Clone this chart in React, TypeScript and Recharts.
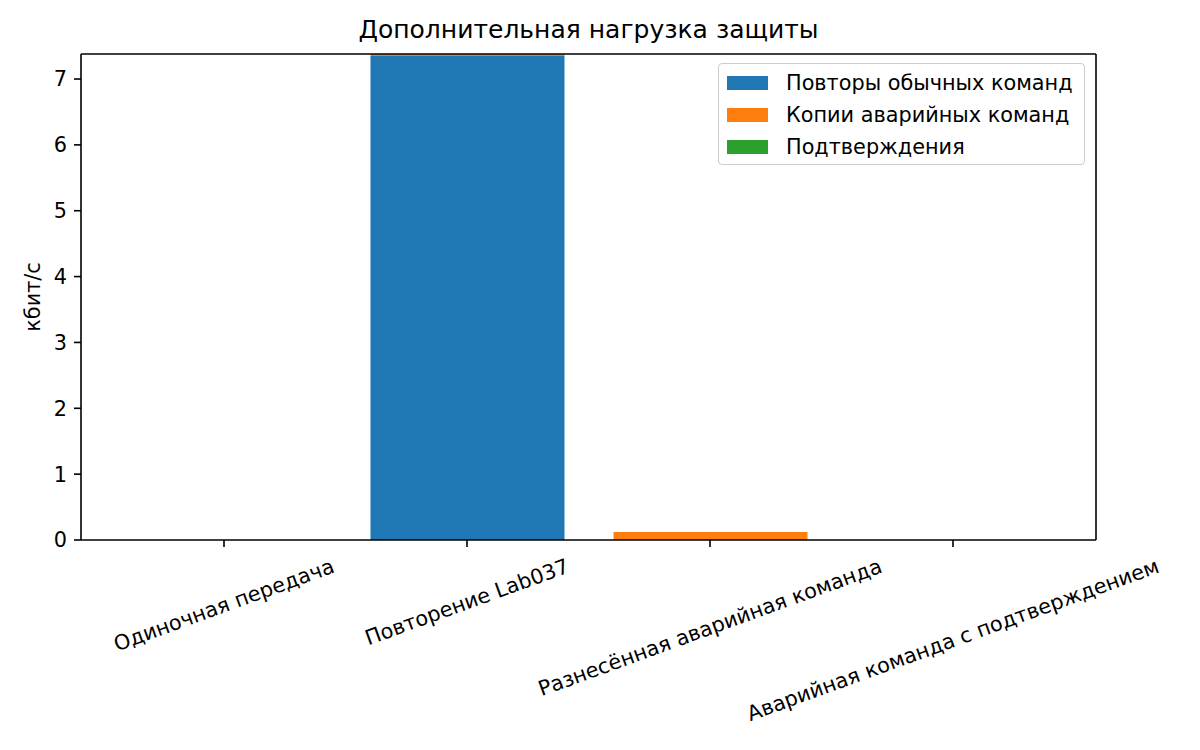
import { Bar, BarChart, Label, Legend, XAxis, YAxis } from "recharts";

// categories and stacked series (kbit/s)
const categories = [
  "Одиночная передача",
  "Повторение Lab037",
  "Разнесённая аварийная команда",
  "Аварийная команда с подтверждением",
];
const retries = [0, 7.35, 0, 0];
const emergencyCopies = [0, 0.03, 0.12, 0];
const acks = [0, 0, 0, 0];
const yTicks = [0, 1, 2, 3, 4, 5, 6, 7];
const Y_MAX = 7.38;

const SERIES = [
  { key: "retries", name: "Повторы обычных команд", color: "#1f77b4" },
  { key: "copies", name: "Копии аварийных команд", color: "#ff7f0e" },
  { key: "acks", name: "Подтверждения", color: "#2ca02c" },
];

const data = categories.map((name, i) => ({
  name,
  retries: retries[i],
  copies: emergencyCopies[i],
  acks: acks[i],
}));

const FONT = '"DejaVu Sans", sans-serif';
const TICK_FS = 20.8;
const AXIS = "#000";

let ctx: CanvasRenderingContext2D | null = null;
function textWidth(s: string) {
  if (!ctx) ctx = document.createElement("canvas").getContext("2d");
  if (!ctx) return s.length * TICK_FS * 0.6;
  ctx.font = `${TICK_FS}px "DejaVu Sans"`;
  return ctx.measureText(s).width;
}

// matplotlib-style rotated label: rotated bbox centred under the tick
function RotatedTick(props: any) {
  const { x, y, payload } = props;
  const a = (20 * Math.PI) / 180;
  const L = textWidth(payload.value);
  const h = TICK_FS * 1.16;
  const H = L * Math.sin(a) + h * Math.cos(a);
  const cy = y + H / 2;
  return (
    <text
      x={x}
      y={cy}
      textAnchor="middle"
      dominantBaseline="central"
      fontSize={TICK_FS}
      fontFamily={FONT}
      fill="#000"
      transform={`rotate(-20, ${x}, ${cy})`}
    >
      {payload.value}
    </text>
  );
}

function LegendBox() {
  return (
    <div
      style={{
        width: 367,
        height: 102,
        boxSizing: "border-box",
        border: "1.5px solid #cccccc",
        borderRadius: 4,
        background: "rgba(255,255,255,0.8)",
        padding: "3px 8px",
        fontFamily: FONT,
        fontSize: TICK_FS,
        color: "#000",
      }}
    >
      {SERIES.map((s) => (
        <div
          key={s.key}
          style={{ display: "flex", alignItems: "center", height: 32 }}
        >
          <span
            style={{
              width: 41,
              height: 14,
              background: s.color,
              marginRight: 18,
              flexShrink: 0,
            }}
          />
          <span style={{ whiteSpace: "nowrap" }}>{s.name}</span>
        </div>
      ))}
    </div>
  );
}

export default function App() {
  return (
    <div
      style={{
        position: "absolute",
        left: 0,
        top: 0,
        width: 1200,
        height: 750,
        background: "#fff",
        fontFamily: FONT,
      }}
    >
      <div
        style={{
          position: "absolute",
          left: 81,
          width: 1015,
          top: 15,
          textAlign: "center",
          fontSize: 25,
          lineHeight: "30px",
          color: "#000",
        }}
      >
        Дополнительная нагрузка защиты
      </div>
      <BarChart
        width={1200}
        height={750}
        data={data}
        margin={{ top: 53, right: 103, bottom: 60, left: 21 }}
        barSize={194}
      >
        <XAxis
          dataKey="name"
          height={150}
          padding={{ left: 21.5, right: 21.5 }}
          interval={0}
          tick={<RotatedTick />}
          tickSize={7}
          tickMargin={7}
          tickLine={{ stroke: AXIS, strokeWidth: 1.6 }}
          axisLine={{ stroke: AXIS, strokeWidth: 1.6 }}
        />
        {/* top and right spines of the frame */}
        <XAxis
          xAxisId="top"
          orientation="top"
          dataKey="name"
          height={1}
          tick={false}
          tickLine={false}
          axisLine={{ stroke: AXIS, strokeWidth: 1.6 }}
        />
        <YAxis
          width={60}
          domain={[0, Y_MAX]}
          ticks={yTicks}
          allowDataOverflow
          tickSize={7}
          tickMargin={7}
          tick={{ fontSize: TICK_FS, fill: "#000", fontFamily: FONT }}
          tickLine={{ stroke: AXIS, strokeWidth: 1.6 }}
          axisLine={{ stroke: AXIS, strokeWidth: 1.6 }}
        >
          <Label
            content={({ viewBox }: any) => {
              const cx = viewBox.x + 12;
              const cy = viewBox.y + viewBox.height / 2;
              return (
                <text
                  x={cx}
                  y={cy}
                  textAnchor="middle"
                  dominantBaseline="central"
                  fontSize={TICK_FS}
                  fontFamily={FONT}
                  fill="#000"
                  transform={`rotate(-90, ${cx}, ${cy})`}
                >
                  кбит/с
                </text>
              );
            }}
          />
        </YAxis>
        <YAxis
          yAxisId="right"
          orientation="right"
          width={1}
          domain={[0, 1]}
          tick={false}
          tickLine={false}
          axisLine={{ stroke: AXIS, strokeWidth: 1.6 }}
        />
        <Legend
          layout="vertical"
          align="center"
          verticalAlign="middle"
          content={<LegendBox />}
          wrapperStyle={{ position: "absolute", left: 718, top: 63, width: 367 }}
        />
        {SERIES.map((s) => (
          <Bar
            key={s.key}
            dataKey={s.key}
            name={s.name}
            stackId="a"
            fill={s.color}
            isAnimationActive={false}
          />
        ))}
      </BarChart>
    </div>
  );
}
